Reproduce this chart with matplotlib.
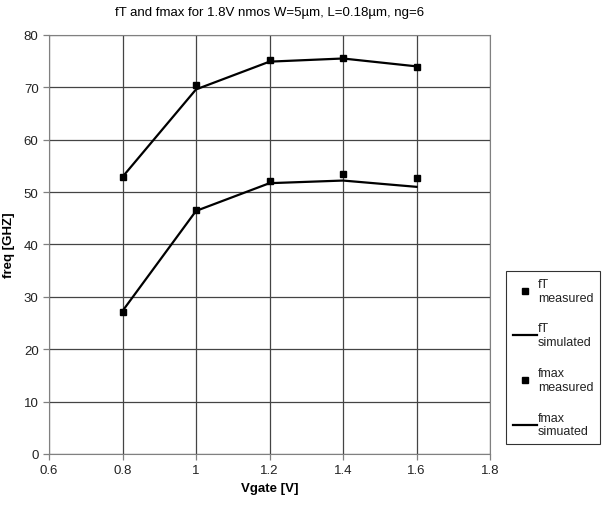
import matplotlib.pyplot as plt

vgate = [0.8, 1.0, 1.2, 1.4, 1.6]
ft_measured = [52.9, 70.5, 75.2, 75.5, 73.9]
ft_simulated = [52.9, 69.6, 74.9, 75.5, 74.0]
fmax_measured = [27.2, 46.6, 52.2, 53.4, 52.6]
fmax_simulated = [27.3, 46.4, 51.7, 52.2, 51.0]

plt.rcParams["font.family"] = ["Liberation Sans", "DejaVu Sans"]

fig = plt.figure(figsize=(6.02, 5.06), dpi=100)
ax = fig.add_axes([0.0814, 0.1008, 0.7326, 0.8282])

ax.plot(vgate, ft_measured, linestyle="none", marker="s", markersize=4.5,
        color="black", label="fT\nmeasured")
ax.plot(vgate, ft_simulated, color="black", linewidth=1.6, label="fT\nsimulated")
ax.plot(vgate, fmax_measured, linestyle="none", marker="s", markersize=4.5,
        color="black", label="fmax\nmeasured")
ax.plot(vgate, fmax_simulated, color="black", linewidth=1.6, label="fmax\nsimuated")

ax.set_xlim(0.6, 1.8)
ax.set_ylim(0, 80)
ax.set_xticks([0.6, 0.8, 1.0, 1.2, 1.4, 1.6, 1.8])
ax.set_xticklabels(["0.6", "0.8", "1", "1.2", "1.4", "1.6", "1.8"])
ax.set_yticks(range(0, 81, 10))
ax.grid(True, color="#444444", linewidth=0.9)
ax.set_axisbelow(True)
for s in ax.spines.values():
    s.set_color("#808080")
ax.tick_params(direction="out", length=4, width=0.9, color="#808080",
               labelsize=9.5, labelcolor="#222222")

ax.set_xlabel("Vgate [V]", fontsize=9.5, fontweight="bold")
ax.set_ylabel("freq [GHZ]", fontsize=9.5, fontweight="bold", labelpad=6)
ax.set_title("fT and fmax for 1.8V nmos W=5µm, L=0.18µm, ng=6",
             fontsize=9.5, pad=14)

leg = fig.legend(loc="upper left", bbox_to_anchor=(506 / 602, 1 - 272 / 506),
                 fontsize=9, frameon=True, fancybox=False, handlelength=1.9,
                 handletextpad=0.1, labelspacing=1.5, borderpad=0.55,
                 borderaxespad=0)
leg.get_frame().set_edgecolor("black")
leg.get_frame().set_linewidth(0.8)
for t in leg.get_texts():
    t.set_color("#222222")

fig.savefig("out.png", dpi=100)
